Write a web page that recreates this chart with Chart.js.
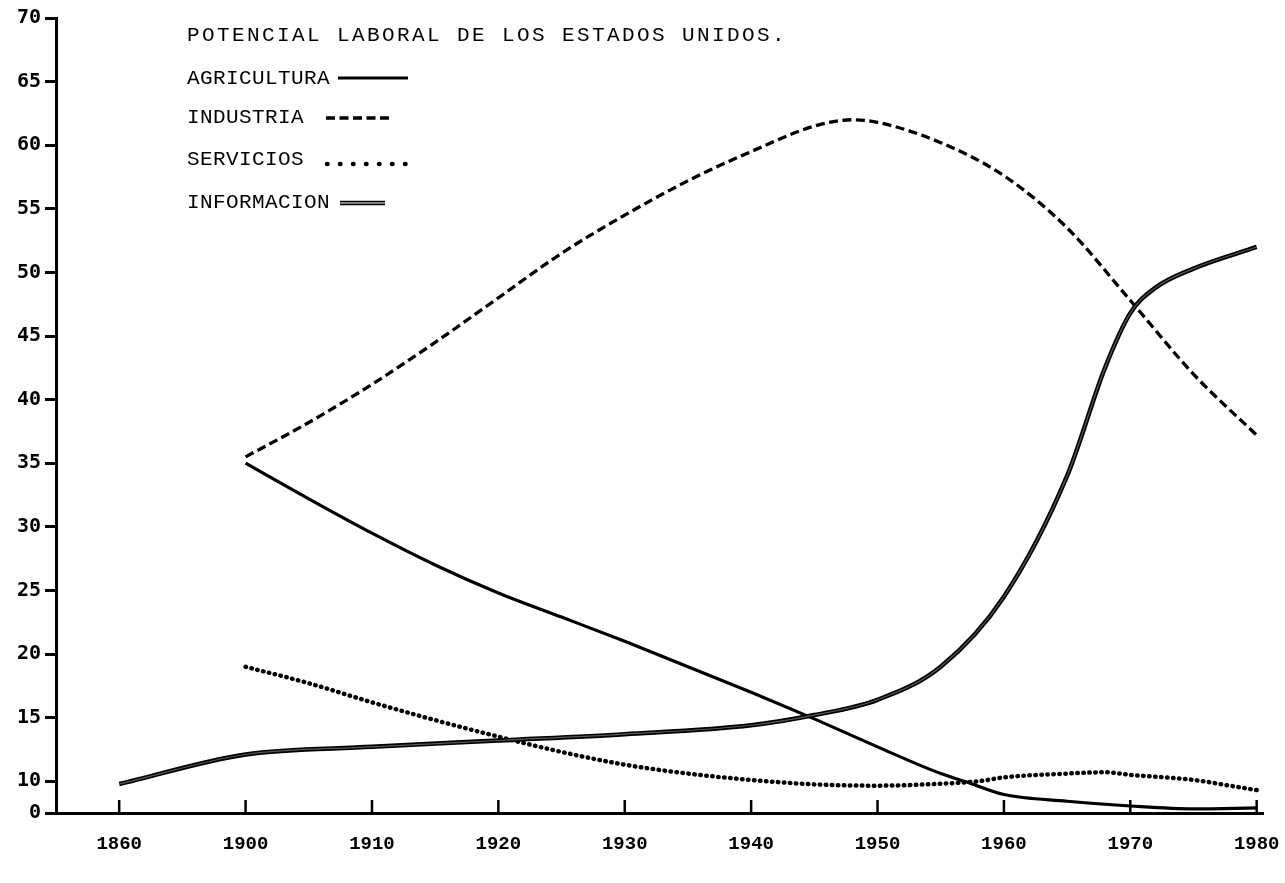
<!DOCTYPE html>
<html>
<head>
<meta charset="utf-8">
<script src="https://cdn.jsdelivr.net/npm/chart.js@4/dist/chart.umd.min.js"></script>
<style>
  html, body { margin: 0; padding: 0; background: #fff; }
  #wrap { width: 1285px; height: 883px; }
</style>
</head>
<body>
<div id="wrap"><canvas id="chart" width="1285" height="883"></canvas></div>
<script>
// tick labels
const xTickLabels = ["1860", "1900", "1910", "1920", "1930", "1940", "1950", "1960", "1970", "1980"];
const yTickValues = [0, 10, 15, 20, 25, 30, 35, 40, 45, 50, 55, 60, 65, 70];

const titleText = "POTENCIAL LABORAL DE LOS ESTADOS UNIDOS.";

// series (percent of labour force)
const agriculturaYears = [1900, 1905, 1910, 1915, 1920, 1925, 1930, 1935, 1940, 1945, 1950, 1955, 1957, 1960, 1965, 1970, 1975, 1980];
const agriculturaValues = [35.0, 32.2, 29.5, 27.0, 24.8, 22.9, 21.0, 19.0, 17.0, 14.9, 12.7, 10.6, 9.8, 5.8, 3.7, 2.2, 1.3, 1.6];

const industriaYears = [1900, 1905, 1910, 1915, 1920, 1925, 1930, 1935, 1940, 1945, 1948, 1950, 1955, 1960, 1965, 1970, 1975, 1980];
const industriaValues = [35.5, 38.2, 41.2, 44.5, 48.0, 51.5, 54.5, 57.2, 59.5, 61.5, 62.0, 61.8, 60.2, 57.6, 53.5, 47.8, 42.0, 37.2];

const serviciosYears = [1900, 1905, 1910, 1915, 1920, 1925, 1930, 1935, 1940, 1945, 1950, 1955, 1958, 1960, 1965, 1968, 1970, 1975, 1978, 1980];
const serviciosValues = [19.0, 17.7, 16.2, 14.8, 13.5, 12.3, 11.3, 10.6, 10.1, 9.0, 8.6, 9.2, 10.0, 10.3, 10.6, 10.7, 10.5, 10.1, 8.5, 7.2];

const informacionYears = [1860, 1900, 1910, 1920, 1930, 1940, 1945, 1950, 1955, 1960, 1965, 1968, 1970, 1972, 1975, 1980];
const informacionValues = [9.1, 12.1, 12.7, 13.2, 13.7, 14.4, 15.2, 16.4, 19.0, 24.5, 34.0, 42.5, 46.8, 48.8, 50.3, 52.0];

// the x axis puts 1860 one step before 1900, then one step per decade
function toIndex(year) {
  return year < 1900 ? (year - 1860) / 40 : 1 + (year - 1900) / 10;
}
// the y axis squeezes 0..10 into half of a 5-unit step
function toAxis(v) {
  return v >= 10 ? v : 7.5 + v / 4;
}
function fromAxis(a) {
  return a >= 10 ? a : (a - 7.5) * 4;
}
function points(years, values) {
  return years.map((yr, i) => ({ x: toIndex(yr), y: toAxis(values[i]) }));
}

const ink = "#000";
const typeFont = '21px "Liberation Mono"';

// title, legend and upward x tick marks
const overlay = {
  id: "overlay",
  afterDatasetsDraw(chart) {
    const ctx = chart.ctx;
    const x = chart.scales.x;
    const area = chart.chartArea;
    ctx.save();

    ctx.strokeStyle = ink;
    ctx.lineWidth = 2.5;
    x.ticks.forEach(t => {
      const px = x.getPixelForValue(t.value);
      ctx.beginPath();
      ctx.moveTo(px, area.bottom);
      ctx.lineTo(px, area.bottom - 13);
      ctx.stroke();
    });

    ctx.font = typeFont;
    ctx.fillStyle = ink;
    ctx.textBaseline = "middle";
    ctx.letterSpacing = "2.4px";
    ctx.fillText(titleText, 187, 35);
    ctx.letterSpacing = "0.4px";

    const rowY = [78, 117, 159, 202];
    const sampleX = [338, 326, 327, 340];
    const sampleEnd = [408, 389, 410, 385];
    const sampleDy = [0, 1, 5, 1];
    for (let i = 0; i < 4; i++) {
      const ds = chart.data.datasets[i];
      ctx.fillText(ds.label, 187, rowY[i]);
      const y0 = rowY[i] + sampleDy[i];
      ctx.beginPath();
      ctx.setLineDash(i === 2 ? [0.5, 12.5] : (ds.borderDash || []));
      ctx.lineCap = ds.borderCapStyle || "butt";
      ctx.lineWidth = ds.borderWidth;
      ctx.strokeStyle = ds.borderColor;
      ctx.moveTo(sampleX[i], y0);
      ctx.lineTo(sampleEnd[i], y0);
      ctx.stroke();
      if (i === 3) {
        ctx.beginPath();
        ctx.lineWidth = 1.2;
        ctx.strokeStyle = "#fff";
        ctx.moveTo(sampleX[i], y0);
        ctx.lineTo(sampleEnd[i], y0);
        ctx.stroke();
      }
    }
    ctx.restore();
  }
};

new Chart(document.getElementById("chart"), {
  type: "line",
  data: {
    datasets: [
      {
        label: "AGRICULTURA",
        data: points(agriculturaYears, agriculturaValues),
        borderColor: ink,
        borderWidth: 3.2,
        order: 1
      },
      {
        label: "INDUSTRIA",
        data: points(industriaYears, industriaValues),
        borderColor: ink,
        borderWidth: 3.3,
        borderDash: [9, 4.5],
        order: 1
      },
      {
        label: "SERVICIOS",
        data: points(serviciosYears, serviciosValues),
        borderColor: ink,
        borderWidth: 4.5,
        borderDash: [0.5, 5.5],
        borderCapStyle: "round",
        order: 1
      },
      {
        label: "INFORMACION",
        data: points(informacionYears, informacionValues),
        borderColor: ink,
        borderWidth: 4.5,
        order: 1
      },
      {
        label: "INFORMACION_inner",
        data: points(informacionYears, informacionValues),
        borderColor: "rgba(255,255,255,0.35)",
        borderWidth: 1.2,
        order: 0
      }
    ]
  },
  options: {
    responsive: false,
    animation: false,
    layout: { padding: { top: 18, right: 22, left: 0, bottom: 0 } },
    plugins: { legend: { display: false }, tooltip: { enabled: false } },
    elements: {
      point: { radius: 0 },
      line: { cubicInterpolationMode: "monotone", fill: false }
    },
    scales: {
      x: {
        type: "linear",
        min: -0.5,
        max: 9.05,
        afterBuildTicks: s => { s.ticks = xTickLabels.map((_, i) => ({ value: i })); },
        afterFit: s => { s.height = 70; s.paddingLeft = 0; s.paddingRight = 0; },
        ticks: {
          callback: v => xTickLabels[v],
          autoSkip: false,
          maxRotation: 0,
          padding: 20,
          color: ink,
          font: { family: "Liberation Mono", size: 19, weight: "bold" }
        },
        grid: { drawOnChartArea: false, drawTicks: false, color: ink },
        border: { display: true, width: 3, color: ink }
      },
      y: {
        type: "linear",
        min: 7.5,
        max: 70,
        afterBuildTicks: s => { s.ticks = yTickValues.map(v => ({ value: toAxis(v) })); },
        afterFit: s => { s.width = 56; },
        ticks: {
          callback: v => String(fromAxis(v)),
          autoSkip: false,
          padding: 4,
          color: ink,
          font: { family: "DejaVu Sans Mono", size: 20, weight: "bold" }
        },
        grid: { drawOnChartArea: false, drawTicks: true, tickLength: 11, tickWidth: 3, color: ink },
        border: { display: true, width: 3, color: ink }
      }
    }
  },
  plugins: [overlay]
});
</script>
</body>
</html>
